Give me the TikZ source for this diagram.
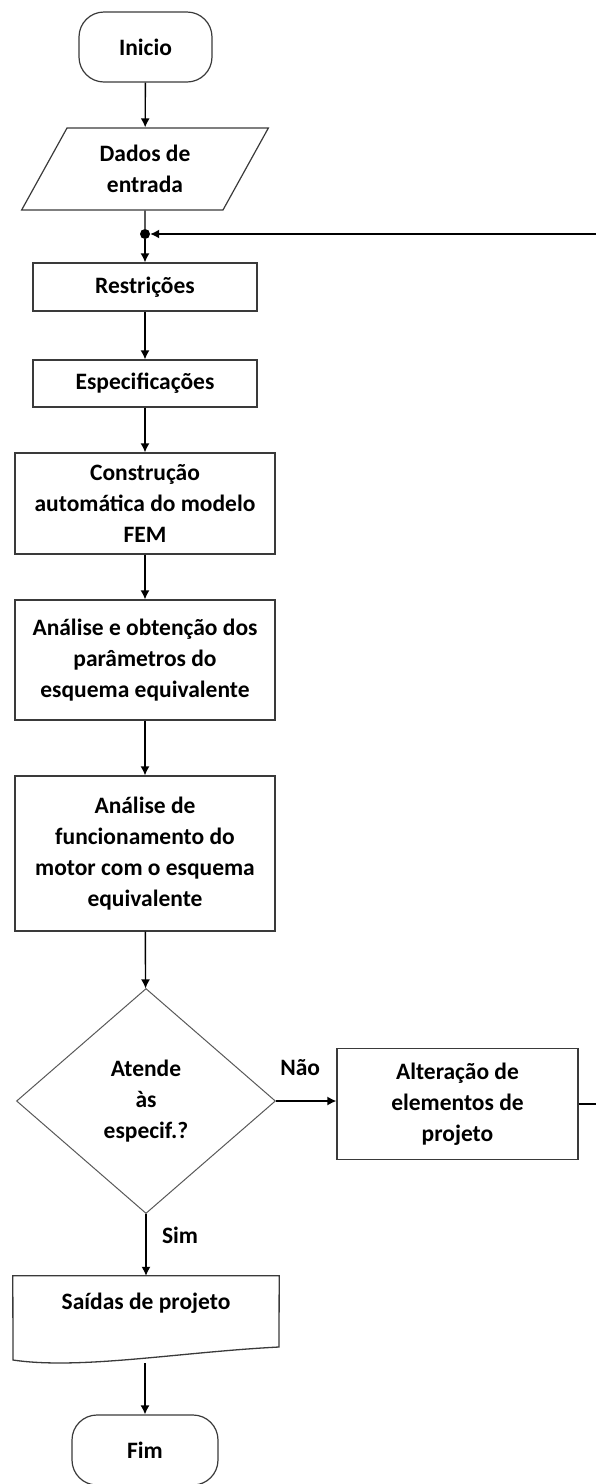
\documentclass[tikz,border=0pt]{standalone}
\usepackage{fontspec}
\setmainfont{Carlito}
\usepackage{tikz}
\usetikzlibrary{shapes,arrows.meta,positioning}
\definecolor{borda}{HTML}{3A3A3A}
\tikzstyle{terminal} = [rectangle, draw = borda, line width = 1.2pt, rounded corners = 25pt, minimum width = 133pt, minimum height = 70pt]
\tikzstyle{inout} = [trapezium, trapezium left angle = 61, trapezium right angle = 119, draw = borda, line width = 1.2pt, minimum width = 226pt, minimum height = 82pt, align = center, inner sep = 0pt]
\tikzstyle{block} = [rectangle, draw = borda, line width = 1.3pt, align = center, inner sep = 0pt]
\tikzstyle{decision} = [diamond, draw = borda!85, line width = 1pt, minimum width = 259pt, minimum height = 225pt, align = center, inner sep = 0pt]
\tikzstyle{juncao} = [circle, fill = black, inner sep = 0pt, minimum size = 10pt]
\tikzstyle{line2} = [draw, line width = 1.4pt, -{Latex[length = 9pt, width = 9pt]}]
\tikzstyle{line} = [draw, line width = 1.4pt]

\begin{document}
\begin{tikzpicture}[x = 1pt, y = -1pt, font = \fontsize{23.5}{31}\selectfont\bfseries]
			\useasboundingbox (0, 0) rectangle (595, 1484);
			% Place nodes
			\node [terminal] (inicio) at (145.5, 47) {Inicio};
			\node [inout] (dados) at (145, 169) {Dados de\\entrada};
			\node [juncao] (jn) at (145, 234) {};
			\node [block, minimum width = 224pt, minimum height = 48pt] (restr) at (145, 287) {Restrições};
			\node [block, minimum width = 224pt, minimum height = 47pt] (espec) at (145, 383.5) {Especificações};
			\node [block, minimum width = 260pt, minimum height = 101pt] (fem) at (145, 503.5) {Construção\\automática do modelo\\FEM};
			\node [block, minimum width = 260pt, minimum height = 120pt] (param) at (145, 660) {Análise e obtenção dos\\parâmetros do\\esquema equivalente};
			\node [block, minimum width = 260pt, minimum height = 155pt] (func) at (145, 853.5) {Análise de\\funcionamento do\\motor com o esquema\\equivalente};
			\node [decision] (atende) at (146, 1101) {Atende\\às\\especif.?};
			\node [block, minimum width = 241pt, minimum height = 111pt] (alter) at (457.5, 1104) {Alteração de\\elementos de\\projeto};
			\node [minimum width = 266pt, minimum height = 54pt, inner sep = 0pt] (saidas) at (146, 1303) {Saídas de projeto};
			\coordinate (saidasbase) at (145, 1363);
			\node [terminal, minimum width = 146pt] (fim) at (145, 1450) {Fim};
			% Document outline
			\draw [borda, line width = 1.3pt] (saidas.north west) -- (saidas.north east) -- (279, 1347)
				.. controls (180, 1352) and (80, 1370) .. (13, 1360) -- cycle;
			% Draw edges
			\path [line2] (inicio) -- (dados);
			\path [line] (dados) -- (jn);
			\path [line2] (jn) -- (restr);
			\path [line2] (restr) -- (espec);
			\path [line2] (espec) -- (fem);
			\path [line2] (fem) -- (param);
			\path [line2] (param) -- (func);
			\path [line2] (func) -- (atende);
			\path [line2] (atende.east) -- node [pos = 0.4, yshift = 33pt] {Não} (atende.east -| alter.west);
			\path [line2] (alter.east) -- ++(22, 0) |- (jn);
			\path [line2] (atende.south) -- node [pos = 0.35, xshift = 34pt] {Sim} (saidas.north -| atende.south);
			\path [line2] (saidasbase) -- (fim);
		\end{tikzpicture}
\end{document}
